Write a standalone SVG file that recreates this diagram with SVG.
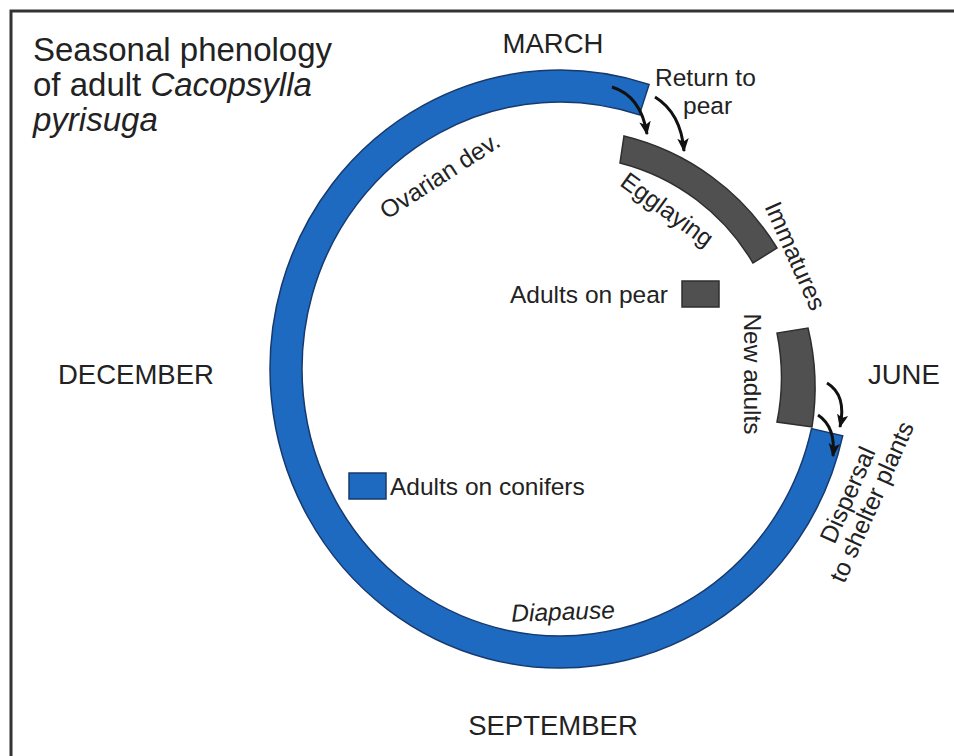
<svg xmlns="http://www.w3.org/2000/svg" width="954" height="756" viewBox="0 0 954 756">
<defs>
<style>
text{font-family:"Liberation Sans",Arial,sans-serif;fill:#222}
.month{font-size:27.5px}
.title{font-size:33px}
.lbl{font-size:24.5px}
.blue{fill:#1d6ac0;stroke:#173a6e;stroke-width:1.5}
.dark{fill:#505050;stroke:#2e2e2e;stroke-width:1.5}
.arrow{fill:none;stroke:#111;stroke-width:3;marker-end:url(#ah)}
</style>
<marker id="ah" viewBox="0 0 12 10" refX="11" refY="5" markerWidth="4.6" markerHeight="3.9" orient="auto" markerUnits="strokeWidth">
<path d="M0,0 L12,5 L0,10 L3,5 Z" fill="#111"/>
</marker>
</defs>
<rect width="954" height="756" fill="#fff"/>
<path d="M11,770 V11 H970" fill="none" stroke="#333" stroke-width="3"/>

<g id="title">
<text class="title" x="33" y="61">Seasonal phenology</text>
<text class="title" x="33" y="96">of adult <tspan font-style="italic">Cacopsylla</tspan></text>
<text class="title" x="33" y="131" font-style="italic">pyrisuga</text>
</g>

<g id="months">
<text class="month" x="553" y="53" text-anchor="middle">MARCH</text>
<text class="month" x="58" y="384">DECEMBER</text>
<text class="month" x="868" y="384">JUNE</text>
<text class="month" x="553" y="735" text-anchor="middle">SEPTEMBER</text>
</g>

<g id="conifers-ring">
<path class="blue" d="M842.7,435.8 A290,299 0 1 1 649.1,84.5 L639.3,114.9 A258,267 0 1 0 811.5,428.6 Z"/>
<text class="lbl" transform="translate(440,176) rotate(-33)" y="8" text-anchor="middle">Ovarian dev.</text>
<text class="lbl" transform="translate(563,612) rotate(-2)" y="8" text-anchor="middle" font-style="italic">Diapause</text>
</g>

<g id="egglaying">
<path class="dark" d="M624,136 A247,247 0 0 1 777,248 L753,263 A217,217 0 0 0 620,163 Z"/>
<text class="lbl" transform="translate(667,210) rotate(36)" y="8" text-anchor="middle">Egglaying</text>
</g>

<g id="immatures">
<text class="lbl" transform="translate(795,256) rotate(66)" y="8" text-anchor="middle">Immatures</text>
</g>

<g id="new-adults">
<path class="dark" d="M808,328 A255,255 0 0 1 812,427 L777,422 A225,225 0 0 0 777,333 Z"/>
<text class="lbl" transform="translate(752,374) rotate(90)" y="8" text-anchor="middle">New adults</text>
</g>

<g id="return-label">
<text class="lbl" x="655" y="86">Return to</text>
<text class="lbl" x="683" y="114">pear</text>
</g>

<g id="dispersal-label">
<text class="lbl" transform="translate(848,495) rotate(-66)" y="8" text-anchor="middle">Dispersal</text>
<text class="lbl" transform="translate(872,502) rotate(-66)" y="8" text-anchor="middle">to shelter plants</text>
</g>

<g id="legend-pear">
<text class="lbl" x="510" y="303">Adults on pear</text>
<rect class="dark" x="682" y="281" width="37" height="26"/>
</g>

<g id="legend-conifers">
<rect class="blue" x="349" y="473" width="37" height="26"/>
<text class="lbl" x="390" y="495">Adults on conifers</text>
</g>

<g id="connectors">
<path class="arrow" d="M612,87 Q641,96 647,134"/>
<path class="arrow" d="M655,97 Q681,113 684,151"/>
<path class="arrow" d="M827,383 Q847,395 840,427"/>
<path class="arrow" d="M818,415 Q836,427 833,456"/>
</g>
</svg>
